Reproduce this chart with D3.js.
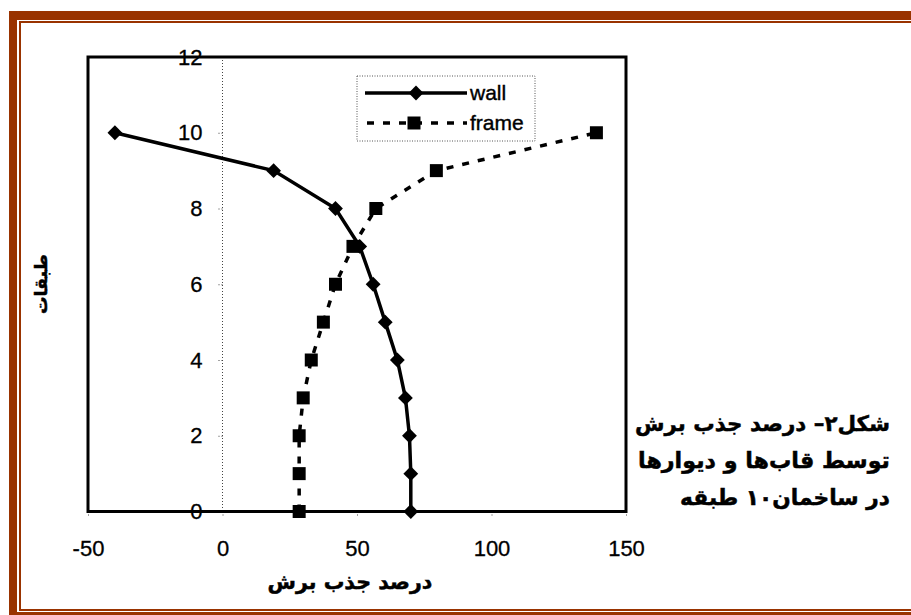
<!DOCTYPE html>
<html><head><meta charset="utf-8">
<script src="https://cdn.jsdelivr.net/npm/d3@7"></script>
<style>body{margin:0;background:#fff}svg{display:block}</style>
</head><body><svg id="c" width="911" height="615"></svg>
<script>
// ---- data ----
const floors = [0, 1, 2, 3, 4, 5, 6, 7, 8, 9, 10];
const wallValues = [70, 70, 69.5, 68, 65, 60.5, 56, 51, 42, 19, -40];
const frameValues = [28.5, 28.5, 28.5, 30, 33, 37.5, 42, 48.5, 57, 79.5, 139];
const xTicks = [-50, 0, 50, 100, 150];
const yTicks = [0, 2, 4, 6, 8, 10, 12];
const seriesNames = ["wall", "frame"];
const xTitle = "درصد جذب برش";
const yTitle = "طبقات";
const captionLines = [
  "شکل۲– درصد جذب برش",
  "توسط قاب‌ها و دیوارها",
  "در ساخمان۱۰ طبقه"
];

// ---- drawing ----
const svg = d3.select("#c");
const brown = "#993300";
const num = "'Liberation Sans', Arial, sans-serif";
const fa = "'DejaVu Sans', sans-serif";

// page border
[[9,11,902,9],[9,11,8,604],[9,612,902,3],[19,21,892,2],[19,21,2,590],[19,609,892,2]]
  .forEach(r => svg.append("rect").attr("x", r[0]).attr("y", r[1]).attr("width", r[2]).attr("height", r[3]).attr("fill", brown));

const x = d3.scaleLinear().domain([-50, 150]).range([88, 626]);
const y = d3.scaleLinear().domain([0, 12]).range([511.5, 57]);

// x=0 dotted axis line
svg.append("line").attr("x1", x(0)).attr("x2", x(0)).attr("y1", y(12)).attr("y2", y(0))
  .attr("stroke", "#444").attr("stroke-width", 1).attr("stroke-dasharray", "1,2");

// y axis at x=0
const ya = svg.append("g").attr("transform", `translate(${x(0)},0)`)
  .call(d3.axisLeft(y).tickValues(yTicks).tickSize(5).tickPadding(15).tickFormat(d => String(d)));
ya.select(".domain").remove();
ya.selectAll(".tick line").attr("stroke", "#444").attr("stroke-dasharray", "1,2");
ya.selectAll("text").attr("font-family", num).attr("font-size", 22).attr("fill", "#000")
  .attr("stroke", "#000").attr("stroke-width", 0.3);

// x axis at bottom
const xa = svg.append("g").attr("transform", `translate(0,${y(0)})`)
  .call(d3.axisBottom(x).tickValues(xTicks).tickSize(5).tickPadding(24).tickFormat(d => String(d)));
xa.select(".domain").remove();
xa.selectAll(".tick line").attr("stroke", "#444").attr("stroke-dasharray", "1,2");
xa.selectAll("text").attr("font-family", num).attr("font-size", 22).attr("fill", "#000")
  .attr("stroke", "#000").attr("stroke-width", 0.3);

// plot frame
svg.append("rect").attr("x", x(-50)).attr("y", y(12)).attr("width", x(150) - x(-50)).attr("height", y(0) - y(12))
  .attr("fill", "none").attr("stroke", "#000").attr("stroke-width", 3);

const wallData = floors.map((f, i) => ({f, v: wallValues[i]}));
const frameData = floors.map((f, i) => ({f, v: frameValues[i]}));
const line = d3.line().x(d => x(d.v)).y(d => y(d.f));

svg.append("path").datum(frameData).attr("d", line).attr("fill", "none")
  .attr("stroke", "#000").attr("stroke-width", 3.5).attr("stroke-dasharray", "7,9");
svg.append("path").datum(wallData).attr("d", line).attr("fill", "none")
  .attr("stroke", "#000").attr("stroke-width", 3.5);

const diamond = d3.symbol(d3.symbolSquare, 110)();
const square = d3.symbol(d3.symbolSquare, 169)();
svg.selectAll(".fm").data(frameData).join("path").attr("class", "fm").attr("d", square)
  .attr("transform", d => `translate(${x(d.v)},${y(d.f)})`).attr("fill", "#000");
svg.selectAll(".wm").data(wallData).join("path").attr("class", "wm").attr("d", diamond)
  .attr("transform", d => `translate(${x(d.v)},${y(d.f)}) rotate(45)`).attr("fill", "#000");

// legend
const lg = svg.append("g");
lg.append("rect").attr("x", 357).attr("y", 76).attr("width", 178).attr("height", 65)
  .attr("fill", "#fff").attr("stroke", "#555").attr("stroke-width", 1).attr("stroke-dasharray", "1,1.5");
lg.append("line").attr("x1", 365).attr("x2", 467).attr("y1", 93).attr("y2", 93).attr("stroke", "#000").attr("stroke-width", 3.5);
lg.append("path").attr("d", diamond).attr("transform", "translate(416,93) rotate(45)");
lg.append("line").attr("x1", 367).attr("x2", 467).attr("y1", 123).attr("y2", 123).attr("stroke", "#000").attr("stroke-width", 3.5).attr("stroke-dasharray", "7,9");
lg.append("path").attr("d", square).attr("transform", "translate(414,123)");
lg.selectAll(".lt").data(seriesNames).join("text").attr("class", "lt")
  .attr("x", 470).attr("y", (d, i) => 100 + i * 30).text(d => d)
  .attr("font-family", num).attr("font-size", 21).attr("fill", "#000")
  .attr("stroke", "#000").attr("stroke-width", 0.4);

// Persian text (right-to-left), sized to the picture's widths
function faText(str, fs, targetW, baseY, cx) {
  const t = svg.append("text").attr("y", baseY).attr("direction", "rtl").attr("text-anchor", "middle")
    .attr("font-family", fa).attr("font-weight", "bold").attr("font-size", fs).attr("fill", "#000")
    .attr("stroke", "#000").attr("stroke-width", 0.5).text(str);
  const l = t.node().getComputedTextLength();
  if (l > 0) t.attr("font-size", fs * targetW / l);
  t.attr("x", cx);
  return t;
}

faText(xTitle, 22, 165, 589, 350);
const capW = [255, 252, 210];
captionLines.forEach((s, i) => faText(s, 24, capW[i], 431 + i * 37, 890 - capW[i] / 2));

const yt = svg.append("text").attr("transform", "translate(47,284) rotate(-90)").attr("text-anchor", "middle")
  .attr("direction", "rtl").attr("font-family", fa).attr("font-weight", "bold").attr("font-size", 22)
  .attr("fill", "#000").attr("stroke", "#000").attr("stroke-width", 0.5).text(yTitle);
const yl = yt.node().getComputedTextLength();
if (yl > 0) yt.attr("font-size", 22 * 60 / yl);
</script></body></html>
